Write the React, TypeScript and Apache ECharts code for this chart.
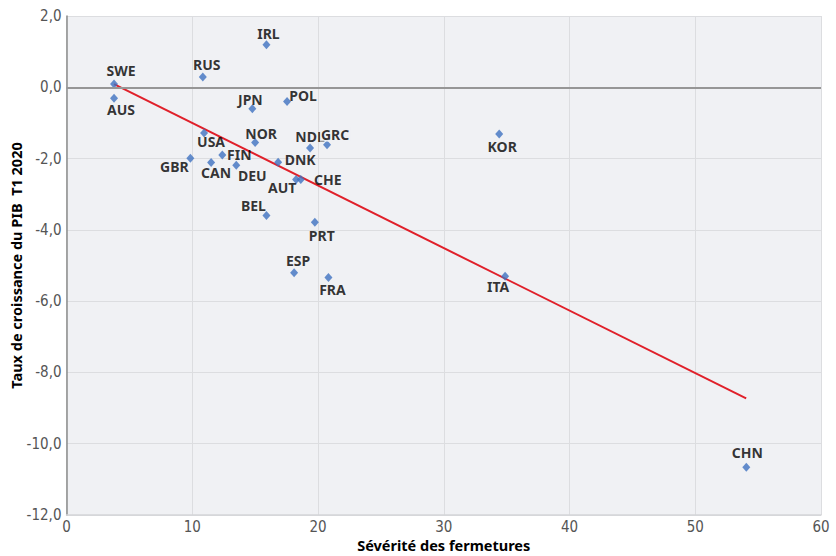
import React, { useEffect, useRef } from "react";
import * as echarts from "echarts";

const countries = ["SWE","AUS","RUS","IRL","JPN","POL","USA","NOR","NDL","GRC","FIN","GBR","CAN","DEU","DNK","AUT","CHE","BEL","PRT","ESP","FRA","KOR","ITA","CHN"];
const severity = [3.78,3.78,10.84,15.9,14.78,17.54,10.94,15.0,19.37,20.72,12.39,9.85,11.5,13.5,16.83,18.26,18.63,15.9,19.75,18.1,20.83,34.41,34.88,54.06];
const growth = [0.09,-0.31,0.29,1.19,-0.6,-0.4,-1.28,-1.55,-1.7,-1.61,-1.9,-1.99,-2.11,-2.19,-2.1,-2.59,-2.59,-3.6,-3.79,-5.2,-5.34,-1.31,-5.3,-10.66];
const trendX = [3.78, 54.05];
const trendY = [0.09, -8.73];

// label offsets (style only) in px relative to the marker centre
const labelOffset: Record<string, [number, number]> = {
  SWE: [7, -14], AUS: [7, 11], RUS: [4, -12], IRL: [2, -11], JPN: [-2, -9], POL: [16, -6],
  USA: [7, 9], NOR: [6, -9], NDL: [0, -11], GRC: [8, -10], FIN: [17, -1], GBR: [-16, 8],
  CAN: [5, 10], DEU: [16, 10], DNK: [22, -3], AUT: [-14, 8], CHE: [27, 0], BEL: [-13, -10],
  PRT: [7, 13], ESP: [4, -12], FRA: [4, 12], KOR: [3, 13], ITA: [-7, 10], CHN: [1, -15],
};

const PLOT_BG = "#f0f1f4";
const LABEL_FONT = "'Noto Sans', sans-serif";
const TICK_FONT = "'Liberation Sans Narrow', 'DejaVu Sans Condensed', sans-serif";

export default function App() {
  const ref = useRef<HTMLDivElement>(null);
  useEffect(() => {
    if (!ref.current) return;
    const chart = echarts.init(ref.current, undefined, { renderer: "svg" });
    const pts = countries.map((c, i) => ({
      name: c,
      value: [severity[i], growth[i]],
      label: {
        offset: labelOffset[c],
        ...(c === "GRC" ? { backgroundColor: PLOT_BG, padding: [0, 1, 0, 1] } : {}),
      },
    }));
    chart.setOption({
      animation: false,
      backgroundColor: "#ffffff",
      grid: {
        left: 66.5, top: 16, right: 15, bottom: 41,
        backgroundColor: PLOT_BG, show: true, borderWidth: 0,
        containLabel: false, outerBoundsMode: "none",
      },
      xAxis: {
        type: "value", min: 0, max: 60, interval: 10,
        name: "Sévérité des fermetures", nameLocation: "middle", nameGap: 22, nameMoveOverlap: false,
        nameTextStyle: { fontFamily: LABEL_FONT, fontWeight: "bold", fontSize: 14.5, color: "#000" },
        axisLine: { show: true, onZero: false, lineStyle: { color: "#d4d5d8", width: 1.5 } },
        axisTick: { show: false },
        axisLabel: { margin: 4, fontFamily: TICK_FONT, fontSize: 15, color: "#555" },
        splitLine: { show: true, lineStyle: { color: "#dcdde0", width: 1 } },
      },
      yAxis: {
        type: "value", min: -12, max: 2, interval: 2,
        name: "Taux de croissance du PIB  T1 2020", nameLocation: "middle", nameGap: 43, nameMoveOverlap: false,
        nameTextStyle: { fontFamily: LABEL_FONT, fontWeight: "bold", fontSize: 14.5, color: "#000" },
        axisLine: { show: true, lineStyle: { color: "#8c8c8c", width: 1.5 } },
        axisTick: { show: false },
        axisLabel: {
          margin: 5, fontFamily: TICK_FONT, fontSize: 15, color: "#555",
          formatter: (v: number) => v.toFixed(1).replace(".", ","),
        },
        splitLine: { show: true, lineStyle: { color: "#dcdde0", width: 1 } },
      },
      series: [
        {
          type: "line",
          data: trendX.map((x, i) => [x, trendY[i]]),
          symbol: "none",
          lineStyle: { color: "#e0202a", width: 2 },
          silent: true,
          z: 3,
          markLine: {
            silent: true, symbol: "none", label: { show: false },
            lineStyle: { color: "#969696", width: 2, type: "solid" },
            data: [{ yAxis: 0 }],
          },
        },
        {
          type: "scatter",
          symbol: "diamond",
          symbolSize: [8, 9],
          itemStyle: { color: "#3f72c0" },
          z: 4,
          label: {
            show: true, position: "inside", formatter: "{b}",
            align: "center", verticalAlign: "middle",
            fontFamily: LABEL_FONT, fontWeight: "bold", fontSize: 14, color: "#000",
          },
          data: pts,
        },
      ],
    });
    return () => chart.dispose();
  }, []);
  return <div ref={ref} style={{ position: "fixed", left: 0, top: 0, width: 836, height: 556 }} />;
}
